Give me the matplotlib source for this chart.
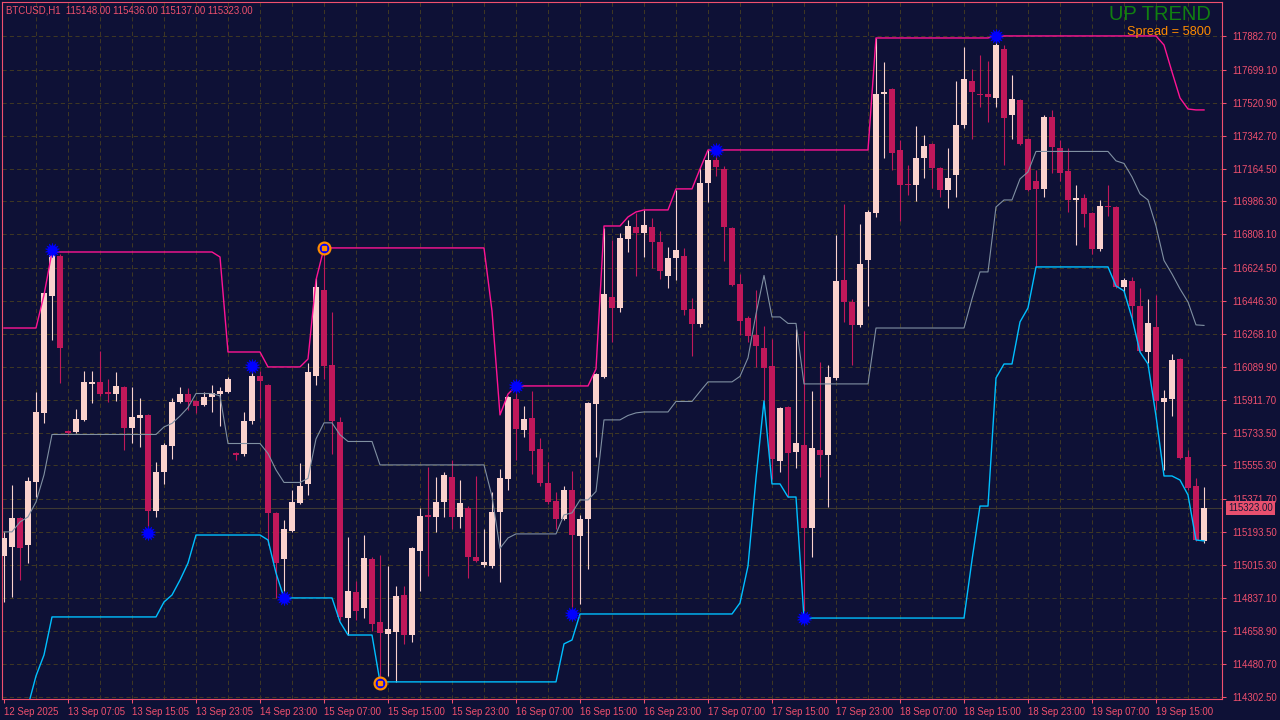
import matplotlib
matplotlib.use('Agg')
import matplotlib.pyplot as plt
import matplotlib.transforms as mtransforms
import numpy as np

# ---------------- data (BTCUSD H1) ----------------
opens = [115064, 115113, 115270, 115124, 115466, 115840, 116474, 116691, 115742, 115737,
         115802, 115997, 116008, 115953, 115942, 115980, 115758, 115812, 115829, 115308,
         115520, 115661, 115899, 115942, 115905, 115883, 115926, 115942, 115953, 115623,
         115617, 115796, 116040, 115991, 115297, 115048, 115200, 115352, 115455, 116040,
         116506, 116100, 115791, 114728, 114869, 114783, 115048, 114707, 114642, 114653,
         114853, 114636, 115092, 115287, 115276, 115357, 115493, 115276, 115325, 115059,
         115016, 115010, 115303, 115482, 115915, 115747, 115812, 115644, 115460, 115363,
         115265, 115422, 115173, 115265, 115888, 116035, 116468, 116409, 116783, 116848,
         116815, 116848, 116766, 116582, 116680, 116691, 116403, 116322, 117086, 117211,
         117162, 116842, 116539, 116354, 116262, 116192, 116094, 115579, 115872, 115628,
         115666, 115216, 115639, 115612, 116029, 116560, 116441, 116316, 116669, 116923,
         117568, 117596, 117265, 117081, 117075, 117222, 117297, 117167, 117048, 117129,
         117400, 117639, 117568, 117568, 117547, 117812, 117455, 117536, 117325, 117097,
         117054, 117444, 117276, 117151, 116994, 117005, 116923, 116728, 116961, 116956,
         116523, 116555, 116419, 116170, 116306, 115899, 115915, 116132, 115601, 115444,
         115148]
highs = [115195, 115449, 115276, 115493, 115953, 116495, 116739, 116701, 115747, 115861,
         116067, 116067, 116176, 116024, 116062, 115986, 115980, 115921, 115834, 115574,
         115677, 115921, 115980, 115975, 115910, 115953, 115991, 115980, 116035, 115628,
         115845, 116094, 116067, 115997, 115303, 115260, 115422, 115569, 116111, 116571,
         116734, 116387, 115818, 115167, 114929, 115178, 115059, 115070, 115010, 114902,
         114902, 115113, 115325, 115547, 115493, 115520, 115585, 115476, 115335, 115498,
         115211, 115411, 115536, 115932, 115997, 115878, 115959, 115704, 115574, 115411,
         115444, 115525, 115287, 115899, 116056, 116842, 116777, 116815, 116886, 116924,
         116940, 116896, 116826, 116739, 117048, 116734, 116463, 117167, 117265, 117265,
         117178, 116848, 116593, 116365, 116506, 116311, 116241, 115872, 115878, 116295,
         116284, 115959, 116116, 116100, 116804, 116972, 116457, 116864, 116940, 117872,
         117742, 117601, 117319, 117184, 117395, 117346, 117303, 117173, 117276, 117639,
         117823, 117704, 117780, 117747, 117877, 117834, 117671, 117541, 117330, 117157,
         117455, 117482, 117319, 117276, 117075, 117026, 116929, 116994, 117075, 116961,
         116571, 116577, 116517, 116457, 116479, 115964, 116159, 116137, 115639, 115487,
         115436]
lows = [114815, 114842, 114934, 115026, 115384, 115785, 116235, 116002, 115726, 115731,
        115796, 115894, 115932, 115899, 115905, 115639, 115677, 115655, 115205, 115276,
        115455, 115590, 115894, 115856, 115840, 115878, 115845, 115769, 115948, 115585,
        115607, 115780, 115812, 115124, 114837, 114826, 115195, 115346, 115395, 115991,
        116024, 115617, 114718, 114636, 114718, 114728, 114658, 114376, 114414, 114382,
        114588, 114598, 114875, 114956, 115195, 115276, 115211, 115216, 114945, 115032,
        115005, 114999, 114924, 115422, 115585, 115710, 115509, 115444, 115346, 115211,
        115260, 114750, 114804, 114994, 115601, 116029, 116224, 116387, 116712, 116582,
        116685, 116625, 116566, 116517, 116560, 116371, 116148, 116306, 116983, 117124,
        116663, 116528, 116262, 116224, 116089, 115899, 115482, 115520, 115384, 115541,
        114728, 115059, 115493, 115330, 116018, 116333, 116100, 116306, 116419, 116902,
        117222, 117157, 116880, 117021, 116989, 117113, 117059, 117010, 116951, 117010,
        117384, 117325, 117498, 117417, 117498, 117184, 117325, 117292, 117043, 116631,
        117010, 117140, 117097, 116929, 116750, 116848, 116701, 116718, 116907, 116517,
        116495, 116354, 116170, 116111, 115856, 115531, 115823, 115590, 115422, 115146,
        115137]
closes = [115162, 115270, 115108, 115471, 115845, 116490, 116696, 116192, 115731, 115807,
          116008, 116008, 115942, 115942, 115986, 115758, 115818, 115829, 115308, 115520,
          115666, 115899, 115942, 115899, 115878, 115926, 115948, 115959, 116024, 115612,
          115796, 116040, 116013, 115297, 115026, 115211, 115357, 115444, 116062, 116523,
          116094, 115796, 114734, 114875, 114766, 115054, 114696, 114647, 114669, 114848,
          114636, 115108, 115281, 115276, 115357, 115504, 115276, 115352, 115059, 115037,
          115032, 115303, 115487, 115926, 115753, 115807, 115634, 115460, 115357, 115265,
          115422, 115178, 115265, 115894, 116051, 116484, 116409, 116788, 116853, 116815,
          116859, 116766, 116609, 116680, 116723, 116398, 116322, 117086, 117211, 117173,
          116848, 116533, 116338, 116257, 116203, 116083, 115590, 115867, 115623, 115677,
          115216, 115650, 115612, 116035, 116555, 116441, 116316, 116647, 116929, 117568,
          117579, 117249, 117075, 117075, 117222, 117287, 117167, 117048, 117113, 117400,
          117650, 117579, 117563, 117552, 117834, 117438, 117541, 117297, 117048, 117054,
          117444, 117281, 117140, 116994, 117005, 116918, 116728, 116961, 116956, 116523,
          116560, 116419, 116176, 116327, 115905, 115921, 116127, 115596, 115433, 115151,
          115323]

upper_band = [116300, 116300, 116300, 116300, 116300, 116479, 116712, 116712, 116712, 116712,
              116712, 116712, 116712, 116712, 116712, 116712, 116712, 116712, 116712, 116712,
              116712, 116712, 116712, 116712, 116712, 116712, 116712, 116685, 116170, 116170,
              116170, 116170, 116170, 116089, 116089, 116089, 116089, 116089, 116132, 116560,
              116734, 116734, 116734, 116734, 116734, 116734, 116734, 116734, 116734, 116734,
              116734, 116734, 116734, 116734, 116734, 116734, 116734, 116734, 116734, 116734,
              116734, 116392, 115829, 115942, 115986, 115986, 115986, 115986, 115986, 115986,
              115986, 115986, 115986, 115986, 116078, 116853, 116853, 116853, 116902, 116929,
              116940, 116940, 116940, 116940, 117054, 117054, 117054, 117162, 117265, 117265,
              117265, 117265, 117265, 117265, 117265, 117265, 117265, 117265, 117265, 117265,
              117265, 117265, 117265, 117265, 117265, 117265, 117265, 117265, 117265, 117872,
              117872, 117872, 117872, 117872, 117872, 117872, 117872, 117872, 117872, 117872,
              117872, 117872, 117872, 117872, 117883, 117883, 117883, 117883, 117883, 117883,
              117883, 117883, 117883, 117883, 117883, 117883, 117883, 117883, 117883, 117883,
              117883, 117883, 117883, 117883, 117883, 117834, 117688, 117547, 117487, 117482,
              117482]
lower_band = [114089, 114089, 114197, 114251, 114414, 114528, 114734, 114734, 114734, 114734,
              114734, 114734, 114734, 114734, 114734, 114734, 114734, 114734, 114734, 114734,
              114815, 114853, 114934, 115026, 115178, 115178, 115178, 115178, 115178, 115178,
              115178, 115178, 115178, 115151, 114972, 114837, 114837, 114837, 114837, 114837,
              114837, 114837, 114707, 114636, 114636, 114636, 114636, 114382, 114382, 114382,
              114382, 114382, 114382, 114382, 114382, 114382, 114382, 114382, 114382, 114382,
              114382, 114382, 114382, 114382, 114382, 114382, 114382, 114382, 114382, 114382,
              114588, 114609, 114750, 114750, 114750, 114750, 114750, 114750, 114750, 114750,
              114750, 114750, 114750, 114750, 114750, 114750, 114750, 114750, 114750, 114750,
              114750, 114750, 114810, 115010, 115487, 115905, 115455, 115455, 115384, 115384,
              114728, 114728, 114728, 114728, 114728, 114728, 114728, 114728, 114728, 114728,
              114728, 114728, 114728, 114728, 114728, 114728, 114728, 114728, 114728, 114728,
              114728, 115043, 115335, 115335, 116029, 116105, 116105, 116333, 116409, 116631,
              116631, 116631, 116631, 116631, 116631, 116631, 116631, 116631, 116631, 116528,
              116501, 116354, 116170, 116105, 115823, 115498, 115498, 115476, 115395, 115151,
              115146]
middle_band = [115195, 115195, 115249, 115276, 115357, 115504, 115723, 115723, 115723, 115723,
               115723, 115723, 115723, 115723, 115723, 115723, 115723, 115723, 115723, 115723,
               115764, 115783, 115823, 115869, 115945, 115945, 115945, 115932, 115674, 115674,
               115674, 115674, 115674, 115620, 115531, 115463, 115463, 115463, 115485, 115699,
               115786, 115786, 115721, 115685, 115685, 115685, 115685, 115558, 115558, 115558,
               115558, 115558, 115558, 115558, 115558, 115558, 115558, 115558, 115558, 115558,
               115558, 115387, 115106, 115162, 115184, 115184, 115184, 115184, 115184, 115184,
               115287, 115298, 115368, 115368, 115414, 115802, 115802, 115802, 115826, 115840,
               115845, 115845, 115845, 115845, 115902, 115902, 115902, 115956, 116008, 116008,
               116008, 116008, 116038, 116138, 116376, 116585, 116360, 116360, 116325, 116325,
               115997, 115997, 115997, 115997, 115997, 115997, 115997, 115997, 115997, 116300,
               116300, 116300, 116300, 116300, 116300, 116300, 116300, 116300, 116300, 116300,
               116300, 116458, 116604, 116604, 116956, 116994, 116994, 117108, 117146, 117257,
               117257, 117257, 117257, 117257, 117257, 117257, 117257, 117257, 117257, 117206,
               117192, 117119, 117027, 116994, 116853, 116666, 116593, 116512, 116441, 116317,
               116314]

# signal markers (bar index, price)
star_high_idx = [6, 31, 64, 89, 124]
star_high_px = [116723, 116094, 115986, 117265, 117883]
star_low_idx = [18, 35, 71, 100]
star_low_px = [115189, 114837, 114750, 114728]
ring_idx = [40, 47]
ring_px = [116734, 114376]

ytick_vals = [117882.70, 117699.10, 117520.90, 117342.70, 117164.50, 116986.30, 116808.10,
              116624.50, 116446.30, 116268.10, 116089.90, 115911.70, 115733.50, 115555.30,
              115371.70, 115193.50, 115015.30, 114837.10, 114658.90, 114480.70, 114302.50]
xtick_bars = [0, 8, 16, 24, 32, 40, 48, 56, 64, 72, 80, 88, 96, 104, 112, 120, 128, 136, 144]
xtick_labels = ['12 Sep 2025', '13 Sep 07:05', '13 Sep 15:05', '13 Sep 23:05', '14 Sep 23:00',
                '15 Sep 07:00', '15 Sep 15:00', '15 Sep 23:00', '16 Sep 07:00', '16 Sep 15:00',
                '16 Sep 23:00', '17 Sep 07:00', '17 Sep 15:00', '17 Sep 23:00', '18 Sep 07:00',
                '18 Sep 15:00', '18 Sep 23:00', '19 Sep 07:00', '19 Sep 15:00']

symbol = 'BTCUSD,H1'
trend_text = 'UP TREND'
spread_text = 'Spread = 5800'

# ---------------- style ----------------
BG = '#0E1136'
AXC = '#F0506E'
BULL = '#FAD2CD'
BEAR = '#C0185A'
GRID = '#3E3724'
UPC = '#FF1493'
LOC = '#00BFFF'
MIDC = '#8090A2'
FONT = ['Liberation Sans', 'DejaVu Sans']
LBL = 6.9

W, H = 1280, 720
fig = plt.figure(figsize=(W / 100, H / 100), dpi=100)
fig.patch.set_facecolor(BG)
ax = fig.add_axes([2 / W, 21 / H, 1220 / W, 697 / H])
ax.set_facecolor(BG)

PX = 5.42  # price per pixel
ax.set_ylim(118077.8 - PX * 699, 118077.8 - PX * 2)
ax.set_xlim(-0.25, 152.25)

# grid
for p in ytick_vals:
    ax.axhline(p, color=GRID, lw=0.75, ls=(0, (4, 3)), zorder=0)
for b in range(4, 152, 4):
    ax.axvline(b, color=GRID, lw=0.75, ls=(0, (4, 3)), zorder=0)

# bid line
ax.axhline(closes[-1], color='#3F3A33', lw=0.8, zorder=1)

# candles
o = np.array(opens, float)
h = np.array(highs, float)
l = np.array(lows, float)
c = np.array(closes, float)
idx = np.arange(len(o))
cols = np.where(c >= o, BULL, BEAR)
ax.vlines(idx, l, h, colors=cols, lw=0.8, zorder=3)
ax.bar(idx, np.maximum(np.abs(c - o), PX), bottom=np.minimum(o, c), width=0.64,
       color=cols, lw=0, zorder=4)

# bands
ax.plot(idx, upper_band, color=UPC, lw=1.0, zorder=5)
ax.plot(idx, lower_band, color=LOC, lw=1.0, zorder=5)
ax.plot(idx, middle_band, color=MIDC, lw=0.8, zorder=5)

# markers
for xs, ys in ((star_high_idx, star_high_px), (star_low_idx, star_low_px)):
    ax.plot(xs, ys, ls='none', marker=(14, 1, 0), ms=10.5, color='#0000FF', mec='#0000FF',
            mew=0.4, zorder=7)
    ax.plot(xs, ys, ls='none', marker='o', ms=6.0, color='#0000FF', mec='#0000FF', zorder=7)
ax.plot(ring_idx, ring_px, ls='none', marker='o', ms=8.5, mfc='#0000FF', mec='#FF8C00',
        mew=1.6, zorder=7)
ax.plot(ring_idx, ring_px, ls='none', marker='s', ms=2.2, color='#FF8C00', mec='#FF8C00', zorder=8)

# spines / ticks
for s in ax.spines.values():
    s.set_color(AXC)
    s.set_linewidth(0.8)
ax.yaxis.tick_right()
ax.set_yticks(ytick_vals)
ax.set_yticklabels([f'{v:.2f}' for v in ytick_vals])
ax.tick_params(axis='y', colors=AXC, length=3, width=0.75, pad=4.5, labelsize=LBL)
ax.set_xticks(xtick_bars)
ax.set_xticklabels(xtick_labels, ha='left')
ax.tick_params(axis='x', colors=AXC, length=3, width=0.75, pad=2.5, labelsize=LBL)
for t in ax.get_yticklabels() + ax.get_xticklabels():
    t.set_fontfamily(FONT)
    t.set_color(AXC)

# current price box
trans = mtransforms.blended_transform_factory(ax.transAxes, ax.transData)
ax.text(1.005, closes[-1], f'{closes[-1]:.2f}', transform=trans,
        ha='left', va='center', color='#161838', fontsize=LBL, family=FONT,
        bbox=dict(boxstyle='square,pad=0.22', fc='#E8506E', ec='none'),
        clip_on=False, zorder=10)

# header texts
fig.text(6 / W, 1 - 10.5 / H,
         f'{symbol}  {opens[-1]:.2f} {highs[-1]:.2f} {lows[-1]:.2f} {closes[-1]:.2f}',
         ha='left', va='center', color=AXC, fontsize=6.9, family=FONT)
fig.text(1211 / W, 1 - 15 / H, trend_text, ha='right', va='center', color='#118011',
         fontsize=14.5, family=FONT)
fig.text(1211 / W, 1 - 31.5 / H, spread_text, ha='right', va='center', color='#FF8C00',
         fontsize=9.2, family=FONT)

fig.savefig('out.png', dpi=100, facecolor=BG)
